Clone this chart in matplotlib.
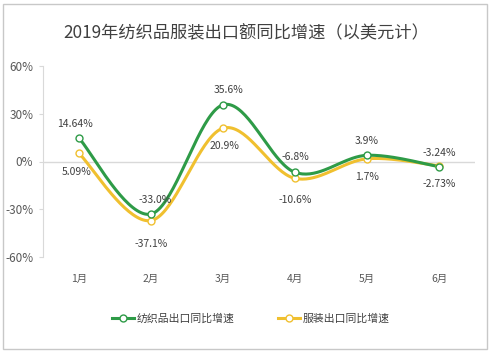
import matplotlib.pyplot as plt
import numpy as np
from matplotlib.lines import Line2D
from matplotlib.patches import Rectangle

plt.rcParams['font.family'] = ['Noto Sans CJK SC', 'DejaVu Sans']

months = ['1月', '2月', '3月', '4月', '5月', '6月']
textile = [14.64, -33.0, 35.6, -6.8, 3.9, -3.24]
apparel = [5.09, -37.1, 20.9, -10.6, 1.7, -2.73]
textile_labels = ['14.64%', '-33.0%', '35.6%', '-6.8%', '3.9%', '-3.24%']
apparel_labels = ['5.09%', '-37.1%', '20.9%', '-10.6%', '1.7%', '-2.73%']

green = '#2E9B47'
yellow = '#F0C02F'


def smooth(xs, ys, n=40):
    # Excel-style smoothed line: cubic Bezier with Catmull-Rom tangents
    xs = np.asarray(xs, float)
    ys = np.asarray(ys, float)
    px = np.concatenate([[xs[0]], xs, [xs[-1]]])
    py = np.concatenate([[ys[0]], ys, [ys[-1]]])
    outx, outy = [], []
    t = np.linspace(0, 1, n)
    for i in range(1, len(px) - 2):
        p0 = np.array([px[i], py[i]])
        p3 = np.array([px[i + 1], py[i + 1]])
        p1 = p0 + (np.array([px[i + 1], py[i + 1]]) - np.array([px[i - 1], py[i - 1]])) / 6
        p2 = p3 - (np.array([px[i + 2], py[i + 2]]) - np.array([px[i], py[i]])) / 6
        b = ((1 - t) ** 3)[:, None] * p0 + (3 * (1 - t) ** 2 * t)[:, None] * p1 \
            + (3 * (1 - t) * t ** 2)[:, None] * p2 + (t ** 3)[:, None] * p3
        outx.extend(b[:, 0])
        outy.extend(b[:, 1])
    return outx, outy


fig = plt.figure(figsize=(4.92, 3.53), dpi=100)
fig.patches.append(Rectangle((3 / 492, 4 / 353), 484 / 492, 345 / 353, transform=fig.transFigure,
                             fill=False, edgecolor='#c8c8c8', linewidth=1))
ax = fig.add_axes([43 / 492, 1 - 257 / 353, 432 / 492, 191 / 353])

x = np.arange(1, len(months) + 1)
ax.axhline(0, color='#d9d9d9', linewidth=1, zorder=1)
for ys, c in [(apparel, yellow), (textile, green)]:
    sx, sy = smooth(x, ys)
    ax.plot(sx, sy, color=c, linewidth=2.2, solid_capstyle='round', zorder=2)
    ax.plot(x, ys, linestyle='none', marker='o', markersize=5, markerfacecolor='white',
            markeredgecolor=c, markeredgewidth=1, zorder=3)

t_off = [(-4, 14), (4, 14), (6, 15), (0, 15), (0, 14), (0, 14)]
a_off = [(-2, -19), (0, -23), (1, -18), (0, -22), (0, -18), (0, -18)]
for i in range(len(months)):
    ax.annotate(textile_labels[i], (x[i], textile[i]), xytext=t_off[i], textcoords='offset pixels',
                ha='center', va='center', fontsize=7.5, color='#404040')
    ax.annotate(apparel_labels[i], (x[i], apparel[i]), xytext=a_off[i], textcoords='offset pixels',
                ha='center', va='center', fontsize=7.5, color='#404040')

ax.set_xlim(0.5, 6.5)
ax.set_ylim(-60, 60)
ax.set_yticks([-60, -30, 0, 30, 60])
ax.set_yticklabels(['-60%', '-30%', '0%', '30%', '60%'])
ax.set_xticks(x)
ax.set_xticklabels(months)
ax.tick_params(axis='y', colors='#d9d9d9', labelcolor='#595959', labelsize=8.5, length=3, pad=4)
ax.tick_params(axis='x', length=0, labelcolor='#595959', labelsize=7.5, pad=12)
for s in ['top', 'right', 'bottom']:
    ax.spines[s].set_visible(False)
ax.spines['left'].set_color('#d9d9d9')

fig.text(0.5, 1 - 33 / 353, '2019年纺织品服装出口额同比增速（以美元计）', ha='center', va='center',
         fontsize=12.4, color='#404040')

handles = [Line2D([], [], color=green, linewidth=2.2, marker='o', markersize=5,
                  markerfacecolor='white', markeredgecolor=green),
           Line2D([], [], color=yellow, linewidth=2.2, marker='o', markersize=5,
                  markerfacecolor='white', markeredgecolor=yellow)]
fig.legend(handles, ['纺织品出口同比增速', '服装出口同比增速'], loc='center',
           bbox_to_anchor=(0.51, 1 - 319 / 353), ncol=2, frameon=False, fontsize=7.8,
           labelcolor='#404040', handlelength=2.0, handletextpad=0.3, columnspacing=4.0)

fig.savefig('out.png', dpi=100)
